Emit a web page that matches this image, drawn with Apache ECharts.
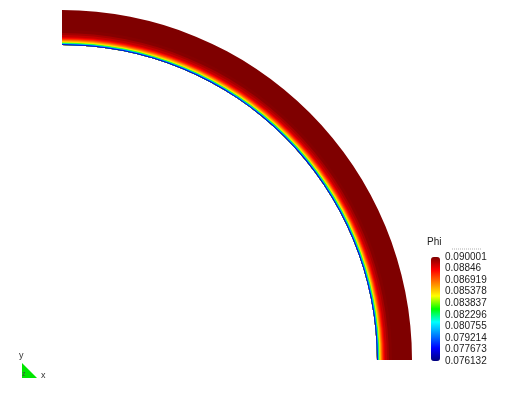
<!DOCTYPE html>
<html>
<head>
<meta charset="utf-8">
<script src="https://cdn.jsdelivr.net/npm/echarts@6/dist/echarts.min.js"></script>
<style>html,body{margin:0;padding:0;background:#fff;}#main{width:516px;height:400px;}</style>
</head>
<body>
<div id="main"></div>
<script>
// radial band edges (data units = radius) and Phi per band
var bandEdges = [315, 315.5, 316, 316.5, 317, 317.5, 318, 319, 320, 321, 322, 323, 325, 327, 330, 350];
var phiValues = [0.0767, 0.0785, 0.0803, 0.0822, 0.0836, 0.0847, 0.0856, 0.0865, 0.0873, 0.0880, 0.0886, 0.0891, 0.0895, 0.0899, 0.090001];
var tickLabels = ['0.076132', '0.077673', '0.079214', '0.080755', '0.082296', '0.083837', '0.085378', '0.086919', '0.08846', '0.090001'];
var phiMin = 0.076132, phiMax = 0.090001;
var rampColors = ['#00007f', '#0000ff', '#0080ff', '#00ffff', '#00ff00', '#ffff00', '#ff8000', '#ff0000', '#7f0000'];

var bands = [];
for (var i = 0; i < phiValues.length; i++) {
  bands.push([bandEdges[i], bandEdges[i + 1], phiValues[i]]);
}
var innerR = bandEdges[0];

var chart = echarts.init(document.getElementById('main'), null, {renderer: 'canvas'});
var font = 'Liberation Sans, Arial, sans-serif';
chart.setOption({
  animation: false,
  backgroundColor: '#ffffff',
  title: {
    text: 'Phi', left: 427, top: 237, padding: 0,
    textStyle: {fontSize: 10, fontWeight: 'normal', color: '#222', fontFamily: font}
  },
  grid: [
    {left: 62, top: 10, width: 350, height: 350},
    {left: 431, top: 257, width: 9, height: 104}
  ],
  xAxis: [
    {gridIndex: 0, type: 'value', min: 0, max: 350, show: false},
    {gridIndex: 1, type: 'value', min: 0, max: 1, show: false}
  ],
  yAxis: [
    {gridIndex: 0, type: 'value', min: 0, max: 350, show: false},
    {gridIndex: 1, type: 'category', data: tickLabels, boundaryGap: false, position: 'right',
     axisLine: {show: false}, axisTick: {show: false}, splitLine: {show: false},
     axisLabel: {interval: 0, showMinLabel: true, showMaxLabel: true, margin: 5, fontSize: 10, color: '#222', fontFamily: font}}
  ],
  visualMap: {
    type: 'continuous', min: phiMin, max: phiMax, dimension: 2, seriesIndex: 0,
    calculable: false, left: 431, top: 257, itemWidth: 9, itemHeight: 104, padding: 0,
    text: ['', ''], showLabel: false,
    inRange: {color: rampColors}
  },
  series: [{
    type: 'custom',
    xAxisIndex: 0, yAxisIndex: 0,
    data: bands,
    renderItem: function (params, api) {
      var c = api.coord([0, 0]);
      var a = api.coord([innerR, 0]);
      var b = api.coord([api.value(1), 0]);
      var col = api.visual('color');
      return {
        type: 'sector',
        z2: 1000 - params.dataIndex * 10,
        shape: {cx: c[0], cy: c[1], r0: a[0] - c[0], r: b[0] - c[0],
                startAngle: -Math.PI / 2, endAngle: 0, clockwise: true},
        style: {fill: col}
      };
    }
  }],
  graphic: [
    {type: 'line', shape: {x1: 452, y1: 249, x2: 482, y2: 249},
     style: {stroke: '#b0b0b0', lineWidth: 1, lineDash: [1, 1]}},
    {type: 'polygon', shape: {points: [[22, 363], [22, 378], [37, 378]]},
     style: {fill: '#00e600'}},
    {type: 'text', x: 19, y: 351, style: {text: 'y', fontSize: 9, fill: '#333', fontFamily: font}},
    {type: 'text', x: 41, y: 371, style: {text: 'x', fontSize: 9, fill: '#333', fontFamily: font}},
    {type: 'text', x: 22, y: 371, style: {text: 'z', fontSize: 7, fill: '#335533', fontFamily: font}}
  ]
});
</script>
</body>
</html>
